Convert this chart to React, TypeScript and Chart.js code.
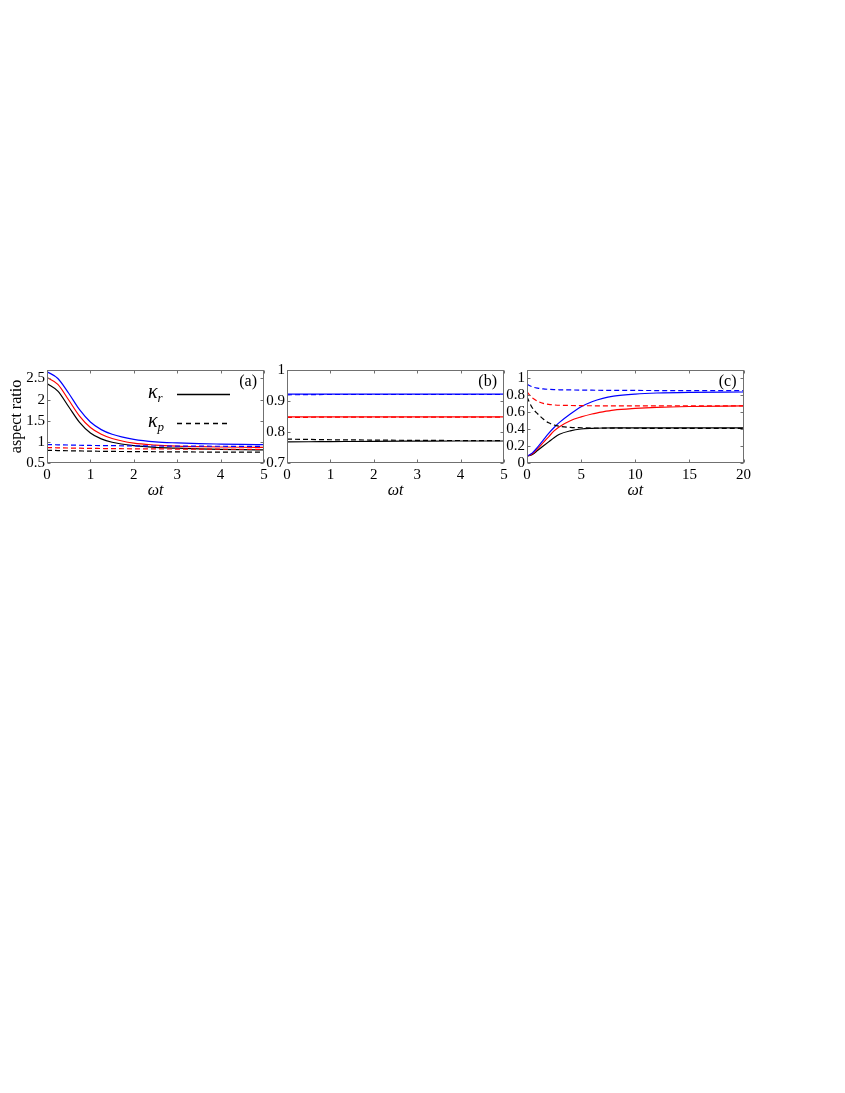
import React, { useEffect, useRef } from "react";
import { Chart, registerables } from "chart.js";
Chart.register(...registerables);

// ---------- data ----------
// panel (a)
const tA = [0, 0.25, 0.5, 0.75, 1, 1.25, 1.5, 2, 2.5, 3, 3.5, 4, 4.5, 5];
const aBlueR = [2.66, 2.5, 2.15, 1.76, 1.47, 1.29, 1.18, 1.06, 1.0, 0.975, 0.958, 0.948, 0.94, 0.935];
const aRedR = [2.52, 2.36, 1.99, 1.61, 1.34, 1.18, 1.08, 0.97, 0.925, 0.9, 0.886, 0.878, 0.873, 0.87];
const aBlackR = [2.38, 2.2, 1.83, 1.46, 1.21, 1.07, 0.99, 0.91, 0.87, 0.85, 0.835, 0.824, 0.816, 0.81];
const aBlueP = [0.935, 0.93, 0.925, 0.92, 0.915, 0.912, 0.91, 0.905, 0.902, 0.9, 0.898, 0.896, 0.895, 0.894];
const aRedP = [0.865, 0.86, 0.855, 0.85, 0.846, 0.843, 0.84, 0.836, 0.833, 0.83, 0.828, 0.826, 0.825, 0.824];
const aBlackP = [0.8, 0.795, 0.79, 0.785, 0.78, 0.777, 0.774, 0.77, 0.766, 0.763, 0.76, 0.758, 0.756, 0.755];
const aYTicks = [0.5, 1, 1.5, 2, 2.5];
const aXTicks = [0, 1, 2, 3, 4, 5];

// panel (b)
const tB = [0, 0.5, 1, 2, 3, 4, 5];
const bBlueR = [0.922, 0.922, 0.922, 0.922, 0.922, 0.922, 0.922];
const bBlueP = [0.92, 0.9205, 0.921, 0.921, 0.921, 0.921, 0.921];
const bRedR = [0.849, 0.849, 0.849, 0.849, 0.849, 0.849, 0.849];
const bRedP = [0.847, 0.8475, 0.848, 0.848, 0.848, 0.848, 0.848];
const bBlackR = [0.768, 0.7685, 0.769, 0.77, 0.7705, 0.771, 0.771];
const bBlackP = [0.777, 0.776, 0.775, 0.774, 0.773, 0.7725, 0.772];
const bYTicks = [0.7, 0.8, 0.9, 1];
const bXTicks = [0, 1, 2, 3, 4, 5];

// panel (c)
const tC = [0, 0.5, 1, 1.5, 2, 2.5, 3, 4, 5, 6, 7, 8, 10, 12, 15, 20];
const cBlueR = [0.08, 0.12, 0.19, 0.27, 0.35, 0.42, 0.48, 0.58, 0.665, 0.725, 0.765, 0.79, 0.815, 0.828, 0.836, 0.84];
const cRedR = [0.08, 0.11, 0.17, 0.24, 0.31, 0.38, 0.43, 0.5, 0.545, 0.58, 0.605, 0.625, 0.645, 0.658, 0.668, 0.675];
const cBlackR = [0.08, 0.1, 0.15, 0.2, 0.25, 0.3, 0.34, 0.38, 0.402, 0.41, 0.414, 0.415, 0.415, 0.415, 0.415, 0.415];
const cBlueP = [0.93, 0.9, 0.885, 0.876, 0.871, 0.868, 0.866, 0.864, 0.862, 0.861, 0.86, 0.859, 0.858, 0.857, 0.856, 0.855];
const cRedP = [0.84, 0.77, 0.73, 0.705, 0.693, 0.687, 0.683, 0.68, 0.678, 0.677, 0.676, 0.676, 0.675, 0.675, 0.675, 0.675];
const cBlackP = [0.78, 0.65, 0.58, 0.52, 0.475, 0.45, 0.435, 0.422, 0.417, 0.414, 0.413, 0.412, 0.411, 0.41, 0.41, 0.41];
const cYTicks = [0, 0.2, 0.4, 0.6, 0.8, 1];
const cXTicks = [0, 5, 10, 15, 20];

// ---------- layout ----------
const PLOT_W = 217;
const PLOT_H = 93;
const PLOT_TOP = 370;
const PAD_L = 47;
const PAD_R = 10;
const PAD_T = 12;
const PAD_B = 46;
const SERIF = "'Liberation Serif', 'Times New Roman', serif";
const BLUE = "#0000ff";
const RED = "#ff0000";
const BLACK = "#000000";

type PanelCfg = {
  plotLeft: number;
  t: number[];
  series: { y: number[]; color: string; dashed: boolean }[];
  xMin: number;
  xMax: number;
  xTicks: number[];
  yMin: number;
  yMax: number;
  yTicks: number[];
  label: string;
  yTitle?: string;
  legend?: boolean;
};

const fmt = (v: number) => String(Number(v.toFixed(2)));

function makeFramePlugin(cfg: PanelCfg) {
  return {
    id: "frame-" + cfg.label,
    afterDraw(chart: any) {
      const { ctx, chartArea } = chart;
      const { left, right, top, bottom } = chartArea;
      const xs = chart.scales.x;
      const ys = chart.scales.y;
      const ox = cfg.plotLeft - PAD_L;
      const oy = PLOT_TOP - PAD_T;
      ctx.save();
      ctx.strokeStyle = "#707070";
      ctx.lineWidth = 1;
      const L = Math.round(left) + 0.5;
      const R = Math.round(right) - 0.5;
      const T = Math.round(top) + 0.5;
      const B = Math.round(bottom) - 0.5;
      ctx.strokeRect(L, T, R - L, B - T);
      const tl = 3;
      ctx.beginPath();
      cfg.xTicks.forEach((v) => {
        const px = Math.round(xs.getPixelForValue(v)) + 0.5;
        ctx.moveTo(px, B);
        ctx.lineTo(px, B - tl);
        ctx.moveTo(px, T);
        ctx.lineTo(px, T + tl);
      });
      cfg.yTicks.forEach((v) => {
        const py = Math.round(ys.getPixelForValue(v)) + 0.5;
        ctx.moveTo(L, py);
        ctx.lineTo(L + tl, py);
        ctx.moveTo(R, py);
        ctx.lineTo(R - tl, py);
      });
      ctx.stroke();

      // panel label
      ctx.fillStyle = "#000";
      ctx.font = `16px ${SERIF}`;
      ctx.textAlign = "right";
      ctx.textBaseline = "middle";
      ctx.fillText(cfg.label, right - 7, top + 12);

      if (cfg.legend) {
        const rows = [
          { sub: "r", dashed: false, y: 394 - oy },
          { sub: "p", dashed: true, y: 423 - oy },
        ];
        rows.forEach((r) => {
          ctx.textAlign = "left";
          ctx.textBaseline = "alphabetic";
          ctx.font = `italic 20px ${SERIF}`;
          ctx.fillStyle = "#000";
          const kx = 148 - ox;
          ctx.fillText("κ", kx, r.y + 4);
          const kw = ctx.measureText("κ").width;
          ctx.font = `italic 13px ${SERIF}`;
          ctx.fillText(r.sub, kx + kw, r.y + 8);
          ctx.beginPath();
          ctx.strokeStyle = "#000";
          ctx.lineWidth = 1.3;
          ctx.setLineDash(r.dashed ? [5, 4] : []);
          ctx.moveTo(177 - ox, r.y + 0.5);
          ctx.lineTo(230 - ox, r.y + 0.5);
          ctx.stroke();
          ctx.setLineDash([]);
        });
      }
      ctx.restore();
    },
  };
}

function Panel({ cfg }: { cfg: PanelCfg }) {
  const ref = useRef<HTMLCanvasElement | null>(null);
  const W = PAD_L + PLOT_W + PAD_R;
  const H = PAD_T + PLOT_H + PAD_B;
  useEffect(() => {
    if (!ref.current) return;
    const datasets = cfg.series.map((s) => ({
      data: cfg.t.map((x, i) => ({ x, y: s.y[i] })),
      borderColor: s.color,
      borderWidth: 1.2,
      borderDash: s.dashed ? [5, 3] : [],
      pointRadius: 0,
      fill: false,
      cubicInterpolationMode: "monotone" as const,
    }));
    const chart = new Chart(ref.current, {
      type: "line",
      data: { datasets },
      options: {
        responsive: false,
        maintainAspectRatio: false,
        animation: false,
        devicePixelRatio: 1,
        layout: { padding: { top: PAD_T, right: PAD_R, left: 0, bottom: 0 } },
        plugins: { legend: { display: false }, tooltip: { enabled: false } },
        scales: {
          x: {
            type: "linear",
            min: cfg.xMin,
            max: cfg.xMax,
            grid: { display: false, drawTicks: false },
            border: { display: false },
            afterBuildTicks: (s: any) => {
              s.ticks = cfg.xTicks.map((v) => ({ value: v }));
            },
            ticks: {
              color: "#000",
              font: { family: SERIF, size: 15 },
              padding: 3,
              maxRotation: 0,
              autoSkip: false,
              callback: (v: any) => fmt(Number(v)),
            },
            title: {
              display: true,
              text: "ωt",
              color: "#000",
              font: { family: SERIF, size: 16, style: "italic" },
              padding: { top: 0, bottom: 9 },
            },
            afterFit: (s: any) => {
              s.height = PAD_B;
            },
          },
          y: {
            type: "linear",
            min: cfg.yMin,
            max: cfg.yMax,
            grid: { display: false, drawTicks: false },
            border: { display: false },
            afterBuildTicks: (s: any) => {
              s.ticks = cfg.yTicks.map((v) => ({ value: v }));
            },
            ticks: {
              color: "#000",
              font: { family: SERIF, size: 15 },
              padding: 2,
              autoSkip: false,
              callback: (v: any) => fmt(Number(v)),
            },
            title: {
              display: !!cfg.yTitle,
              text: cfg.yTitle || "",
              color: "#000",
              font: { family: SERIF, size: 16 },
              padding: { top: 7, bottom: 0 },
            },
            afterFit: (s: any) => {
              s.width = PAD_L;
            },
          },
        },
      },
      plugins: [makeFramePlugin(cfg)],
    } as any);
    return () => chart.destroy();
  }, []);
  return (
    <canvas
      ref={ref}
      width={W}
      height={H}
      style={{
        position: "absolute",
        left: cfg.plotLeft - PAD_L,
        top: PLOT_TOP - PAD_T,
        width: W,
        height: H,
      }}
    />
  );
}

const panels: PanelCfg[] = [
  {
    plotLeft: 47,
    t: tA,
    series: [
      { y: aBlueP, color: BLUE, dashed: true },
      { y: aRedP, color: RED, dashed: true },
      { y: aBlackP, color: BLACK, dashed: true },
      { y: aBlueR, color: BLUE, dashed: false },
      { y: aRedR, color: RED, dashed: false },
      { y: aBlackR, color: BLACK, dashed: false },
    ],
    xMin: 0,
    xMax: 5,
    xTicks: aXTicks,
    yMin: 0.5,
    yMax: 2.7,
    yTicks: aYTicks,
    label: "(a)",
    yTitle: "aspect ratio",
    legend: true,
  },
  {
    plotLeft: 287,
    t: tB,
    series: [
      { y: bBlueR, color: BLUE, dashed: false },
      { y: bBlueP, color: BLUE, dashed: true },
      { y: bRedR, color: RED, dashed: false },
      { y: bRedP, color: RED, dashed: true },
      { y: bBlackR, color: BLACK, dashed: false },
      { y: bBlackP, color: BLACK, dashed: true },
    ],
    xMin: 0,
    xMax: 5,
    xTicks: bXTicks,
    yMin: 0.7,
    yMax: 1.0,
    yTicks: bYTicks,
    label: "(b)",
  },
  {
    plotLeft: 527,
    t: tC,
    series: [
      { y: cBlueP, color: BLUE, dashed: true },
      { y: cRedP, color: RED, dashed: true },
      { y: cBlackP, color: BLACK, dashed: true },
      { y: cBlueR, color: BLUE, dashed: false },
      { y: cRedR, color: RED, dashed: false },
      { y: cBlackR, color: BLACK, dashed: false },
    ],
    xMin: 0,
    xMax: 20,
    xTicks: cXTicks,
    yMin: 0,
    yMax: 1.1,
    yTicks: cYTicks,
    label: "(c)",
  },
];

export default function App() {
  return (
    <div style={{ position: "absolute", left: 0, top: 0, width: 845, height: 1093, background: "#fff" }}>
      {panels.map((p) => (
        <Panel key={p.label} cfg={p} />
      ))}
    </div>
  );
}
